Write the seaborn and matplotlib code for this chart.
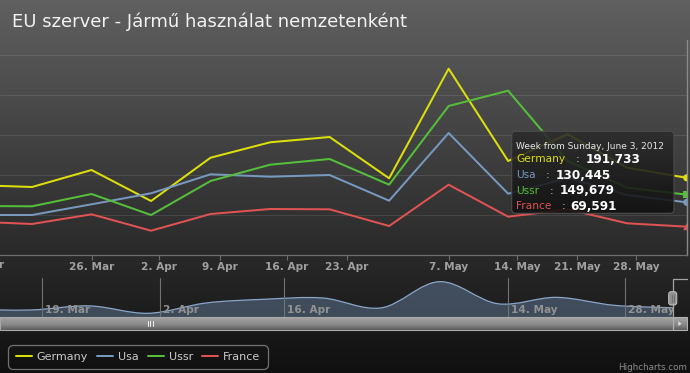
import numpy as np
import pandas as pd
import matplotlib
matplotlib.use("Agg")
import matplotlib.pyplot as plt
import matplotlib.transforms as mtrans
from matplotlib.patches import FancyBboxPatch, Rectangle, Polygon, PathPatch
from matplotlib.path import Path
from matplotlib.lines import Line2D
import seaborn as sns

# ---------------- data ----------------
weeks = ["2012-03-11", "2012-03-18", "2012-03-25", "2012-04-01", "2012-04-08",
         "2012-04-15", "2012-04-22", "2012-04-29", "2012-05-06", "2012-05-13",
         "2012-05-20", "2012-05-27", "2012-06-03"]
germany = [173750, 168750, 211250, 133750, 242000, 280500, 293750, 190500,
           464500, 233750, 300500, 217000, 191733]
usa = [98750, 98750, 125500, 153000, 200500, 194500, 198750, 134500,
       303750, 152000, 191250, 148750, 130445]
ussr = [121250, 120500, 151250, 98750, 183750, 224500, 238750, 174500,
        371250, 409500, 233750, 167000, 149679]
france = [82500, 76250, 100500, 59500, 101250, 113750, 113000, 71250,
          174500, 94500, 113000, 78000, 69591]
series_names = ["Germany", "Usa", "Ussr", "France"]
series_colors = ["#DDDF0D", "#7798BF", "#55BF3B", "#DF5353"]
main_tick_labels = ["26. Mar", "2. Apr", "9. Apr", "16. Apr", "23. Apr",
                    "7. May", "14. May", "21. May", "28. May"]
nav_tick_labels = ["19. Mar", "2. Apr", "16. Apr", "14. May", "28. May"]
left_cut_label = "19. Mar"
title_text = "EU szerver - Jármű használat nemzetenként"
tooltip_header = "Week from Sunday, June 3, 2012"
credits_text = "Highcharts.com"

# ---------------- layout (positions on the ordinal week axis) ----------------
main_tick_pos = [2.003, 3.134, 4.159, 5.281, 6.289, 8.008, 9.146, 10.154, 11.146]
nav_tick_pos = [1.183, 3.209, 5.338, 9.167, 11.18]
XMIN, XMAX = 0.462, 12.0

values = {"Germany": germany, "Usa": usa, "Ussr": ussr, "France": france}
palette = dict(zip(series_names, series_colors))
idx = np.arange(len(weeks))
df = pd.concat([pd.DataFrame({"idx": idx, "week": weeks, "value": values[n], "series": n})
                for n in series_names], ignore_index=True)
last = df[df["idx"] == idx[-1]]

sns.set_theme(style="dark")
plt.rcParams["font.family"] = ["DejaVu Sans"]

W, H = 690, 373
fig = plt.figure(figsize=(W / 100, H / 100), dpi=100)


def fy(y):
    return 1 - y / H


# background gradient
bg = fig.add_axes([0, 0, 1, 1], zorder=-10)
g = np.linspace(96, 16, 400) / 255.0
grad = np.repeat(g[:, None, None], 3, axis=2)
bg.imshow(grad, aspect="auto", extent=[0, 1, 0, 1], origin="upper")
bg.axis("off")

# ---------------- main plot ----------------
top_px, bot_px, right_px = 40, 254.5, 686.7
ax = fig.add_axes([0, fy(bot_px), right_px / W, (bot_px - top_px) / H])
ax.patch.set_alpha(0)
sns.lineplot(data=df, x="idx", y="value", hue="series", hue_order=series_names,
             palette=palette, linewidth=1.45, ax=ax, legend=False, sort=True)
sns.scatterplot(data=last, x="idx", y="value", hue="series", style="series",
                hue_order=series_names, style_order=series_names,
                markers={"Germany": "o", "Usa": "o", "Ussr": "s", "France": "^"},
                palette=palette, s=26, linewidth=0, ax=ax, legend=False, zorder=5)
ax.set_xlim(XMIN, XMAX)
ax.set_ylim(0, 536250)
ax.set_xlabel("")
ax.set_ylabel("")
ax.set_yticks([100000, 200000, 300000, 400000, 500000])
ax.tick_params(axis="y", length=0, labelleft=False)
ax.grid(False)
ax.yaxis.grid(True, color="white", alpha=0.1, linewidth=0.8)
ax.set_xticks(main_tick_pos, main_tick_labels)
ax.tick_params(axis="x", direction="out", bottom=True, length=3.6, width=0.8,
               color="#6e6e6e", pad=1.5, labelsize=7.6, labelcolor="#a0a0a0")
for lbl in ax.get_xticklabels():
    lbl.set_fontweight("bold")
for s in ["top", "left"]:
    ax.spines[s].set_visible(False)
ax.spines["bottom"].set_color("#6e6e6e")
ax.spines["bottom"].set_linewidth(0.9)
ax.spines["right"].set_color("#8a8a8a")
ax.spines["right"].set_linewidth(1.0)

# ---------------- navigator ----------------
nav_top, nav_bot, nav_right = 278, 317, 672.7
nav = fig.add_axes([0, fy(nav_bot), nav_right / W, (nav_bot - nav_top) / H])
nav.patch.set_alpha(0)
nav.set_xlim(XMIN, XMAX)
nav.set_ylim(95000, 503000)
for s in nav.spines.values():
    s.set_visible(False)
nav.set_yticks([])
nav.set_xticks(nav_tick_pos)
nav.tick_params(axis="x", length=0, labelbottom=False)
nav.grid(False)
nav.xaxis.grid(True, color="#727272", linewidth=0.8)
nav.set_axisbelow(False)

# spline (Catmull-Rom as cubic Bezier) through the Germany series
px = idx.astype(float)
py = np.array(germany, dtype=float)
P = np.column_stack([px, py])
Pe = np.vstack([P[0], P, P[-1]])
verts = [tuple(P[0])]
codes = [Path.MOVETO]
for i in range(len(P) - 1):
    p0, p1, p2, p3 = Pe[i], Pe[i + 1], Pe[i + 2], Pe[i + 3]
    c1 = p1 + (p2 - p0) / 6.0
    c2 = p2 - (p3 - p1) / 6.0
    verts += [tuple(c1), tuple(c2), tuple(p2)]
    codes += [Path.CURVE4] * 3
line_path = Path(verts, codes)
area_path = Path(verts + [(px[-1], 0), (px[0], 0), (px[0], py[0])],
                 codes + [Path.LINETO, Path.LINETO, Path.CLOSEPOLY])
nav.add_patch(PathPatch(area_path, facecolor="#7798BF", alpha=0.38, edgecolor="none", zorder=1))
nav.add_patch(PathPatch(line_path, facecolor="none", edgecolor="#8aa6c8", linewidth=0.9, zorder=2))

lab_tr = mtrans.offset_copy(nav.get_xaxis_transform(), fig=fig, x=3.2, y=0, units="dots")
for p, lab in zip(nav_tick_pos, nav_tick_labels):
    nav.text(p, 0.17, lab, transform=lab_tr, ha="left", va="center", fontsize=7.6,
             fontweight="bold", color="#929292", zorder=4)

# ---------------- overlay (title, tooltip, scrollbar) ----------------
ov = fig.add_axes([0, 0, 1, 1], zorder=5)
ov.patch.set_alpha(0)
ov.axis("off")

ov.text(12, 27.3, title_text, fontsize=13.0, color="#f2f2f2", va="baseline", ha="left")
ov.text(4, 265.3, left_cut_label, fontsize=7.6, fontweight="bold", color="#a0a0a0",
        ha="right", va="center")

# tooltip
tx0, ty0, tx1, ty1 = 511.7, 131.3, 674, 213.3
box = FancyBboxPatch((tx0, ty0), tx1 - tx0, ty1 - ty0,
                     boxstyle="round,pad=0,rounding_size=4",
                     facecolor="none", edgecolor="#4c4c4c", linewidth=0.8, zorder=10)
ov.add_patch(box)
tg = np.linspace(0, 1, 100)
c_top = np.array([44, 44, 44]) / 255
c_bot = np.array([16, 16, 16]) / 255
tgrad = (c_top[None, :] * (1 - tg[:, None]) + c_bot[None, :] * tg[:, None])
tgrad = np.concatenate([tgrad, np.full((100, 1), 0.88)], axis=1)[:, None, :]
im = ov.imshow(tgrad, extent=[tx0, tx1, ty1, ty0], origin="upper", aspect="auto", zorder=9)
im.set_clip_path(box)

ov.text(516, 146.7, tooltip_header, fontsize=6.5, color="#e6e6e6", va="center", zorder=11)
row_y = [159.5, 175.3, 190.5, 206.0]
colon_x = [575.5, 545.5, 549.5, 561.5]
value_x = [585.5, 555.5, 560.0, 570.7]
for n, c, yy, cx, vx in zip(series_names, series_colors, row_y, colon_x, value_x):
    ov.text(516, yy, n, fontsize=7.7, color=c, va="center", zorder=11)
    ov.text(cx, yy, ":", fontsize=7.7, color="#cfcfcf", va="center", zorder=11)
    ov.text(vx, yy, f"{values[n][-1]:,}", fontsize=8.7, fontweight="bold",
            color="#ffffff", va="center", zorder=11)

# scrollbar
sg = np.linspace(0, 1, 50)
s_top = np.array([165, 165, 165]) / 255
s_mid = np.array([136, 136, 136]) / 255
s_bot = np.array([92, 92, 92]) / 255
sgrad = np.where(sg[:, None] < 0.6,
                 s_top * (1 - sg[:, None] / 0.6) + s_mid * (sg[:, None] / 0.6),
                 s_mid * (1 - (sg[:, None] - 0.6) / 0.4) + s_bot * ((sg[:, None] - 0.6) / 0.4))
ov.imshow(sgrad[:, None, :], extent=[0, 672.7, 330, 317], origin="upper", aspect="auto", zorder=3)
ov.add_patch(Rectangle((0, 317), 672.7, 13, facecolor="none", edgecolor="#a8a8a8", linewidth=0.8, zorder=4))
for gx in [148.2, 150.4, 152.6]:
    ov.plot([gx, gx], [320.5, 326.3], color="#f2f2f2", linewidth=0.7, zorder=5)
ov.imshow(sgrad[:, None, :], extent=[672.7, 686.7, 330, 317], origin="upper", aspect="auto", zorder=3)
ov.add_patch(Rectangle((672.7, 317), 14, 13, facecolor="none", edgecolor="#b0b0b0", linewidth=0.8, zorder=4))
ov.add_patch(Polygon([(678.3, 321.3), (678.3, 326.0), (681.6, 323.65)], closed=True,
                     facecolor="#dedede", edgecolor="none", zorder=5))

# navigator outline and handle
ov.plot([672.7, 672.7, 686.7], [317, 279, 279], color="#a4a4a4", linewidth=0.9, zorder=4)
ov.add_patch(FancyBboxPatch((668.7, 291.7), 8.0, 13.3, boxstyle="round,pad=0,rounding_size=2.5",
                            facecolor="#8e8e8e", edgecolor="#bdbdbd", linewidth=0.8, zorder=6))
for hx in [671.8, 673.6]:
    ov.plot([hx, hx], [295, 301.7], color="#6a6a6a", linewidth=0.6, zorder=7)

ov.text(687, 371.5, credits_text, fontsize=6.3, color="#8c8c8c", va="bottom", ha="right")

ov.set_xlim(0, W)
ov.set_ylim(H, 0)

# legend
handles = [Line2D([], [], color=c, linewidth=1.45) for c in series_colors]
leg = fig.legend(handles, series_names, loc="lower left",
                 bbox_to_anchor=(8.3 / W, fy(369.3)), bbox_transform=fig.transFigure,
                 ncol=4, frameon=True, fancybox=True, fontsize=8.0,
                 handlelength=1.45, handletextpad=0.45, columnspacing=0.8,
                 borderpad=0.66, borderaxespad=0, labelcolor="#cccccc")
fr = leg.get_frame()
fr.set_facecolor("none")
fr.set_edgecolor("#8a8a8a")
fr.set_linewidth(0.9)
fr.set_boxstyle("round,pad=0,rounding_size=0.45")

fig.savefig("out.png", dpi=100)
